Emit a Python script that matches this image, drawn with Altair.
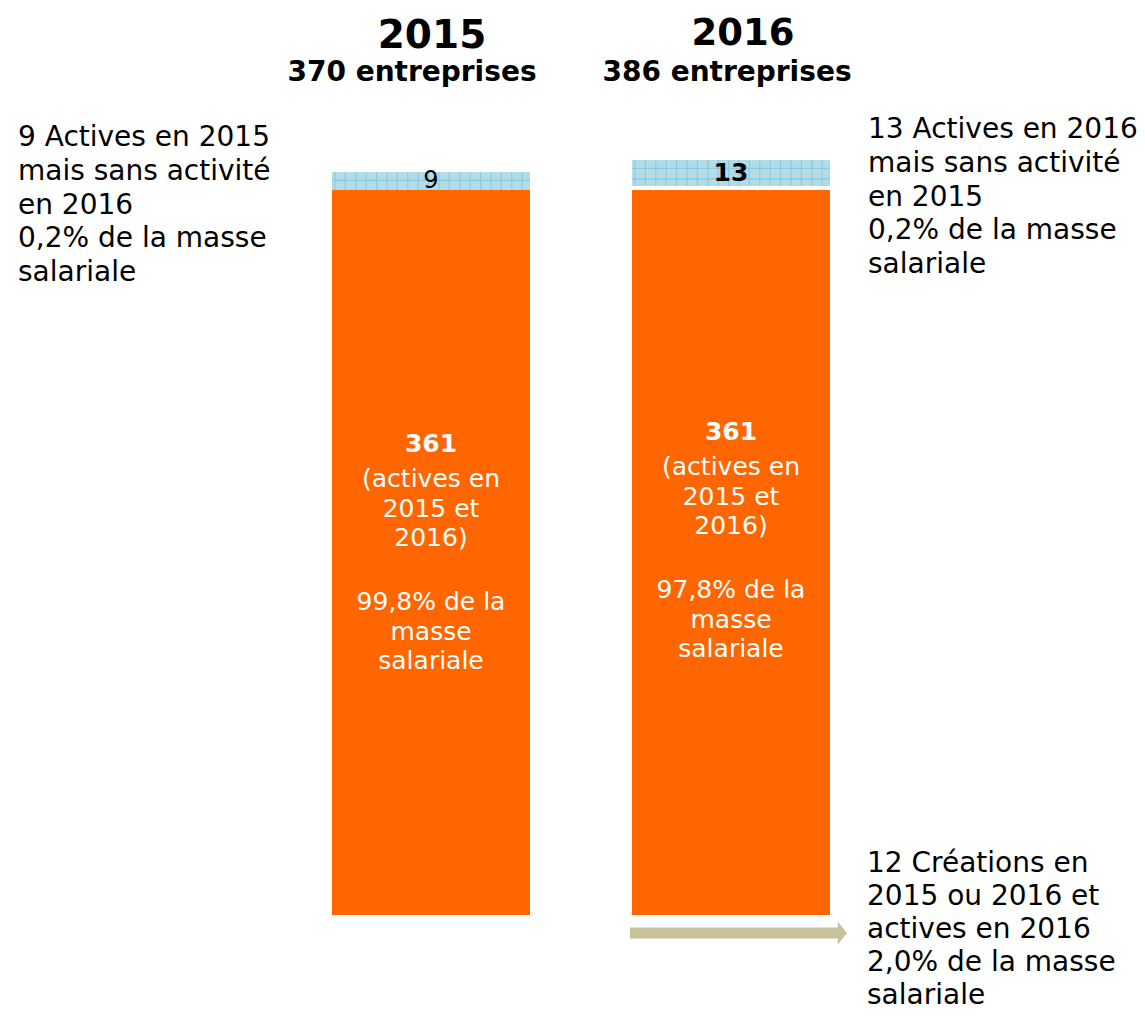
import altair as alt
import pandas as pd

# ---- data ----
years = ["2015", "2016"]
totals = [370, 386]
common = [361, 361]            # active in both years
only_one_year = [9, 13]        # active in one year only
created = [0, 12]              # created in 2015 or 2016 and active in 2016
share_common = ["99,8%", "97,8%"]
share_only = ["0,2%", "0,2%"]
share_created = "2,0%"

# ---- styles / layout ----
ORANGE = "#FF6600"
BLUE = "#B2DCE8"
HATCH = "#8CCADC"
TAN = "#C8C29C"
FONT = "DejaVu Sans"
PAD_TOP = 6
TOP = 8 + PAD_TOP               # page y of plot top
W, H = 1129, 1003 - PAD_TOP
PX_X = 300.0                    # px per x unit
X_ORIGIN = 423.0                # plot x of first bar centre
K = 2.0083                      # px per enterprise
Y_ZERO = 915 - TOP              # plot y of value 0
HW = 0.33                       # half bar width (x units)
GAP = [0, 2]                    # gap between orange and blue segments (y units)
ARROW_GAP = 3
TEXT_SHIFT = [0, -12]           # vertical shift of inner text per bar (px)
HATCH_STEP = 10.4               # px


def P(page_y):
    return page_y - TOP


xscale = alt.Scale(domain=[-X_ORIGIN / PX_X, (W - X_ORIGIN) / PX_X], nice=False, zero=False)
yscale = alt.Scale(domain=[-(H - Y_ZERO) / K, Y_ZERO / K], nice=False, zero=False)
XA = dict(scale=xscale, axis=None)
YA = dict(scale=yscale, axis=None)

rows = []
for i, yr in enumerate(years):
    rows.append(dict(year=yr, seg="common", x0=i - HW, x1=i + HW, y0=0, y1=common[i]))
    b0 = common[i] + GAP[i]
    rows.append(dict(year=yr, seg="only", x0=i - HW, x1=i + HW, y0=b0, y1=b0 + only_one_year[i]))
bars_df = pd.DataFrame(rows)

bars = alt.Chart(bars_df).mark_bar(stroke=None).encode(
    x=alt.X("x0:Q", **XA), x2="x1:Q", y=alt.Y("y0:Q", **YA), y2="y1:Q",
    color=alt.Color("seg:N", scale=alt.Scale(domain=["common", "only"], range=[ORANGE, BLUE]), legend=None),
)

# grid pattern of the blue segments
vrows, hrows = [], []
for _, r in bars_df[bars_df.seg == "only"].iterrows():
    xv = r.x0 + 3 / PX_X
    while xv < r.x1 - 1 / PX_X:
        vrows.append(dict(x=xv, y0=r.y0, y1=r.y1))
        xv += HATCH_STEP / PX_X
    yv = r.y1 - 8.5 / K
    while yv > r.y0 + 1 / K:
        hrows.append(dict(x0=r.x0, x1=r.x1, y=yv))
        yv -= HATCH_STEP / K
hatch_v = alt.Chart(pd.DataFrame(vrows)).mark_rule(color=HATCH, strokeWidth=1.2).encode(
    x=alt.X("x:Q", **XA), y=alt.Y("y0:Q", **YA), y2="y1:Q")
hatch_h = alt.Chart(pd.DataFrame(hrows)).mark_rule(color=HATCH, strokeWidth=1.2).encode(
    x=alt.X("x0:Q", **XA), x2="x1:Q", y=alt.Y("y:Q", **YA))

# labels inside the blue segments
blue_df = pd.DataFrame([
    dict(x=i, y=common[i] + GAP[i] + only_one_year[i] / 2, label=str(only_one_year[i]))
    for i in range(len(years))
])
blue_lab_2015 = alt.Chart(blue_df.iloc[[0]]).mark_text(
    font=FONT, fontSize=24, color="black", baseline="middle", align="center"
).encode(x=alt.X("x:Q", **XA), y=alt.Y("y:Q", **YA), text="label:N")
blue_lab_2016 = alt.Chart(blue_df.iloc[[1]]).mark_text(
    font=FONT, fontSize=25, fontWeight="bold", color="black", baseline="middle", align="center"
).encode(x=alt.X("x:Q", **XA), y=alt.Y("y:Q", **YA), text="label:N")

# inner texts in the orange segments (dy relative to segment middle)
mid_plot = Y_ZERO - K * common[0] / 2
inner_layers = []
for i in range(len(years)):
    d = pd.DataFrame([dict(x=i, y=common[i] / 2,
                           num=str(common[i]),
                           body1="(actives en\n2015 et\n2016)",
                           body2=f"{share_common[i]} de la\nmasse\nsalariale")])
    enc = dict(x=alt.X("x:Q", **XA), y=alt.Y("y:Q", **YA))
    inner_layers.append(alt.Chart(d).mark_text(
        font=FONT, fontSize=25, fontWeight="bold", color="white", align="center",
        baseline="alphabetic", dy=P(452) - mid_plot + TEXT_SHIFT[i]).encode(text="num:N", **enc))
    inner_layers.append(alt.Chart(d).mark_text(
        font=FONT, fontSize=25, color="white", align="center", baseline="alphabetic",
        lineBreak="\n", lineHeight=29.5, dy=P(487) - mid_plot + TEXT_SHIFT[i]).encode(text="body1:N", **enc))
    inner_layers.append(alt.Chart(d).mark_text(
        font=FONT, fontSize=25, color="white", align="center", baseline="alphabetic",
        lineBreak="\n", lineHeight=29.5, dy=P(610) - mid_plot + TEXT_SHIFT[i]).encode(text="body2:N", **enc))

# arrow for creations (2016)
arrow_df = pd.DataFrame([dict(x0=1 - 0.3367, x1=1 + 0.3567, xt=1 + 0.3713,
                              y=-(ARROW_GAP + created[1] / 2))])
arrow_body = alt.Chart(arrow_df).mark_rule(color=TAN, strokeWidth=11, strokeCap="butt").encode(
    x=alt.X("x0:Q", **XA), x2="x1:Q", y=alt.Y("y:Q", **YA))
arrow_tip = alt.Chart(arrow_df).mark_point(
    shape="M-0.4,-1L0.4,0L-0.4,1Z", filled=True, size=529, color=TAN, opacity=1, strokeWidth=0
).encode(x=alt.X("xt:Q", **XA), y=alt.Y("y:Q", **YA))

# titles
title_df = pd.DataFrame([
    dict(x=0 + 1 / PX_X, year=years[0], n=f"{totals[0]} entreprises", xn=0 - 19 / PX_X),
    dict(x=1 + 12 / PX_X, year=years[1], n=f"{totals[1]} entreprises", xn=1 - 4 / PX_X),
])
YEAR_BASE = [P(48), P(45)]
YEAR_SIZE = [39, 37]
N_BASE = [P(81), P(81)]
title_layers = []
for i in range(len(years)):
    title_layers.append(alt.Chart(title_df.iloc[[i]]).mark_text(
        font=FONT, fontSize=YEAR_SIZE[i], fontWeight="bold", color="black", align="center", baseline="alphabetic"
    ).encode(x=alt.X("x:Q", **XA), y=alt.value(YEAR_BASE[i]), text="year:N"))
    title_layers.append(alt.Chart(title_df.iloc[[i]]).mark_text(
        font=FONT, fontSize=28, fontWeight="bold", color="black", align="center", baseline="alphabetic"
    ).encode(x=alt.X("xn:Q", **XA), y=alt.value(N_BASE[i]), text="n:N"))

# side notes
notes_top = pd.DataFrame([
    dict(px=10, py=P(146), txt=f"{only_one_year[0]} Actives en 2015\nmais sans activité\nen 2016\n{share_only[0]} de la masse\nsalariale"),
    dict(px=860, py=P(138), txt=f"{only_one_year[1]} Actives en 2016\nmais sans activité\nen 2015\n{share_only[1]} de la masse\nsalariale"),
])
notes_bottom = pd.DataFrame([
    dict(px=859, py=P(872), txt=f"{created[1]} Créations en\n2015 ou 2016 et\nactives en 2016\n{share_created} de la masse\nsalariale"),
])
notes1 = alt.Chart(notes_top).mark_text(
    font=FONT, fontSize=28, color="black", align="left", baseline="alphabetic",
    lineBreak="\n", lineHeight=33.8
).encode(x=alt.X("px:Q", scale=None, axis=None), y=alt.Y("py:Q", scale=None, axis=None), text="txt:N")
notes2 = alt.Chart(notes_bottom).mark_text(
    font=FONT, fontSize=28, color="black", align="left", baseline="alphabetic",
    lineBreak="\n", lineHeight=33
).encode(x=alt.X("px:Q", scale=None, axis=None), y=alt.Y("py:Q", scale=None, axis=None), text="txt:N")

chart = alt.layer(
    bars, hatch_v, hatch_h, arrow_body, arrow_tip, blue_lab_2015, blue_lab_2016, *inner_layers,
    *title_layers, notes1, notes2
).properties(
    width=W, height=H,
    padding={"top": PAD_TOP, "left": 0, "right": 0, "bottom": 0},
    autosize=alt.AutoSizeParams(type="none"), background="white"
).configure_view(stroke=None)

chart.save("out.html", embed_options={"renderer": "svg", "actions": False})
